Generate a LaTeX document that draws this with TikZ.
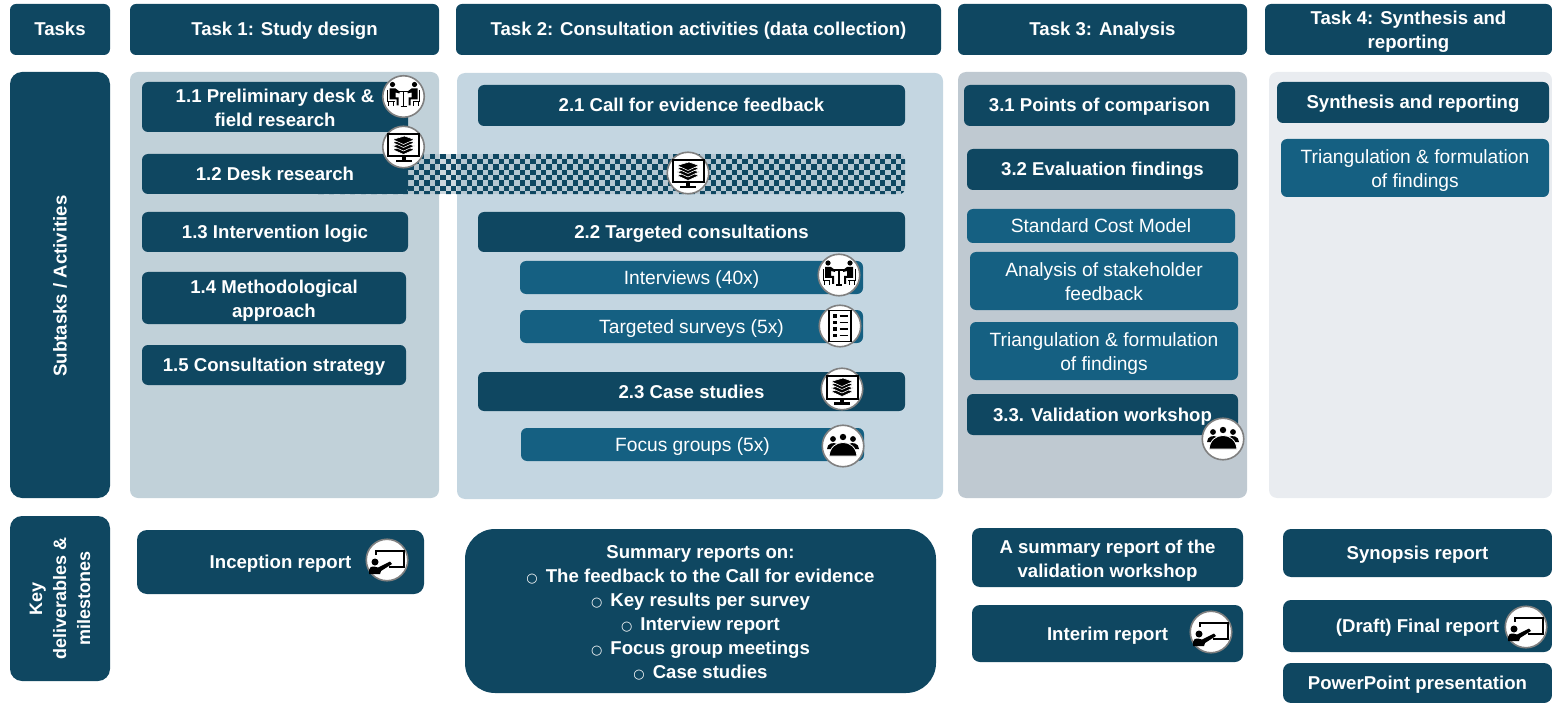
\documentclass[tikz,border=0pt]{standalone}
\usepackage{fontspec}
\setmainfont{Liberation Sans}
\newfontfamily\symfont{DejaVu Sans}
\definecolor{taskdark}{HTML}{0F4761}
\definecolor{tasklight}{HTML}{156082}
\definecolor{panelone}{HTML}{C1D1D9}
\definecolor{paneltwo}{HTML}{C4D6E1}
\definecolor{panelthree}{HTML}{BFC9D1}
\definecolor{panelfour}{HTML}{E9ECF0}
\newcommand{\circbullet}{{\symfont\fontsize{13}{13}\selectfont ○}\hspace{8pt}}
\tikzstyle{darkbox}=[fill=taskdark,rounded corners=6pt,inner sep=0pt,align=center,text=white,text height=14pt,text depth=1pt,font=\bfseries\fontsize{18.6}{24}\selectfont]
\tikzstyle{lightbox}=[fill=tasklight,rounded corners=6pt,inner sep=0pt,align=center,text=white,text height=14pt,text depth=1pt,font=\fontsize{19.2}{24}\selectfont]
\tikzstyle{twolines}=[text height=40pt]
\tikzstyle{panel}=[rounded corners=8pt,inner sep=0pt]
\tikzstyle{iconring}=[circle,fill=white,draw=black!50,line width=1.6pt,minimum size=41.5pt,inner sep=0pt]
\tikzset{
  pics/meeticon/.style={code={
    \node[iconring] (-ring) at (0,0) {};
    \fill (-11,-12) circle (2.6);
    \fill (11,-12) circle (2.6);
    \fill (-14,-8) -- (-8,-8) -- (-4,-5) -- (-4,-3) -- (-8,-4) -- (-8,1) -- (-5,1) -- (-5,9) -- (-7,9) -- (-7,3) -- (-14,3) -- cycle;
    \fill (14,-8) -- (8,-8) -- (4,-5) -- (4,-3) -- (8,-4) -- (8,1) -- (5,1) -- (5,9) -- (7,9) -- (7,3) -- (14,3) -- cycle;
    \draw[line width=.9pt] (-16,-6) -- (-16,5) -- (-9,5) (-15,5) -- (-15,10) (-10,5) -- (-10,10);
    \draw[line width=.9pt] (16,-6) -- (16,5) -- (9,5) (15,5) -- (15,10) (10,5) -- (10,10);
    \draw[line width=1.2pt] (-5,-5) -- (5,-5) (0,-5) -- (0,10) (-3,10) -- (3,10);
  }},
  pics/booksicon/.style={code={
    \node[iconring] (-ring) at (0,0) {};
    \draw[line width=2pt] (-15.5,-13) rectangle (15.5,9.5);
    \fill (-2,9) rectangle (2,14);
    \fill (-8,13) rectangle (8,15.5);
    \foreach \h in {2.5,-1,-4.5,-7.5} {
      \fill[draw=white,line width=.6pt] (-11,\h) -- (1,\h-3.5) -- (11,\h) -- (0,\h+5) -- cycle;
    }
  }},
  pics/listicon/.style={code={
    \node[iconring] (-ring) at (0,0) {};
    \draw[line width=1.7pt] (-11,-15.5) rectangle (11,15.5);
    \foreach \h in {-10,-3.5,3,9.5} {
      \fill (-7.5,\h-1.7) rectangle (-3.5,\h+1.7);
      \draw[line width=1.3pt] (-.5,\h) -- (8,\h);
    }
  }},
  pics/groupicon/.style={code={
    \node[iconring] (-ring) at (0,0) {};
    \fill (0,-9) circle (3.2);
    \fill (-10,-7) circle (2.9);
    \fill (10,-7) circle (2.9);
    \fill (-16,3) .. controls (-16,-3) and (-9,-4) .. (-6,-2) -- (-11,3) -- cycle;
    \fill (16,3) .. controls (16,-3) and (9,-4) .. (6,-2) -- (11,3) -- cycle;
    \fill[draw=white,line width=.8pt] (-14,10) .. controls (-13,1) and (-7,-3.5) .. (0,-3.5) .. controls (7,-3.5) and (13,1) .. (14,10) -- cycle;
  }},
  pics/boardicon/.style={code={
    \node[iconring] (-ring) at (0,0) {};
    \draw[line width=1.5pt] (-11,-5) -- (-11,-9) -- (17,-9) -- (17,7) -- (2,7);
    \fill (-12,2) circle (3.5);
    \fill (-18,14) -- (-18,10) .. controls (-18,7) and (-15,6) .. (-13,6.5) -- (-9,7.5) -- (3,1.5) -- (5,4) -- (-6,11) -- (-7,14) -- cycle;
  }}
}
\begin{document}
\begin{tikzpicture}[x=1pt,y=-1pt]
\useasboundingbox (0,0) rectangle (1552,703);
% headers
\node[darkbox,minimum width=100pt,minimum height=51pt] (tasks) at (60,29.5) {Tasks};
\node[darkbox,minimum width=309pt,minimum height=51pt] (task1) at (284.5,29.5) {Task 1: Study design};
\node[darkbox,minimum width=485pt,minimum height=51pt] (task2) at (698.5,29.5) {Task 2: Consultation activities (data collection)};
\node[darkbox,minimum width=289pt,minimum height=51pt] (task3) at (1102.5,29.5) {Task 3: Analysis};
\node[darkbox,twolines,minimum width=287pt,minimum height=51pt] (task4) at (1408.5,29.5) {Task 4: Synthesis and\\reporting};
% left column
\node[darkbox,rounded corners=12pt,minimum width=100pt,minimum height=426pt] (subtasks) at (60,285) {};
\node[text=white,font=\bfseries\fontsize{18.6}{24}\selectfont,rotate=90] (subtaskstext) at (60,286) {Subtasks / Activities};
\node[darkbox,rounded corners=12pt,minimum width=100pt,minimum height=165pt] (keys) at (60,598.5) {};
\node[text=white,font=\bfseries\fontsize{18}{24}\selectfont,rotate=90,align=center] (keystext) at (60,598.5) {Key\\deliverables \&\\milestones};
% panels
\node[panel,fill=panelone,minimum width=309pt,minimum height=426pt] (p1) at (284.5,285) {};
\node[panel,fill=paneltwo,minimum width=486pt,minimum height=426pt] (p2) at (700,286) {};
\node[panel,fill=panelthree,minimum width=289pt,minimum height=426pt] (p3) at (1102.5,285) {};
\node[panel,fill=panelfour,minimum width=283pt,minimum height=426pt] (p4) at (1410.5,285) {};
% checkered band
\begin{scope}
  \clip[rounded corners=6pt] (313,153.8) rectangle (905,194.2);
  \fill[taskdark!35,opacity=.6] (313,153.8) rectangle (905,194.2);
  \foreach \i in {0,...,112} {
    \foreach \j in {0,...,8} {
      \pgfmathparse{int(mod(\i+\j,2))}
      \ifnum\pgfmathresult=0
        \fill[taskdark] (313+\i*5.3,153.8+\j*5.3) rectangle +(5.3,5.3);
      \fi
    }
  }
\end{scope}
% task 1
\node[darkbox,twolines,minimum width=266pt,minimum height=50pt] (s11) at (275,107) {1.1 Preliminary desk \&\\field research};
\node[darkbox,minimum width=266pt,minimum height=40pt] (s12) at (275,174) {1.2 Desk research};
\node[darkbox,minimum width=266pt,minimum height=40pt] (s13) at (275,232) {1.3 Intervention logic};
\node[darkbox,twolines,minimum width=264pt,minimum height=52pt] (s14) at (274,298) {1.4 Methodological\\approach};
\node[darkbox,minimum width=264pt,minimum height=40pt] (s15) at (274,365) {1.5 Consultation strategy};
% task 2
\node[darkbox,minimum width=427pt,minimum height=41pt] (s21) at (691.5,105.5) {2.1 Call for evidence feedback};
\node[darkbox,minimum width=427pt,minimum height=40pt] (s22) at (691.5,232) {2.2 Targeted consultations};
\node[lightbox,minimum width=343pt,minimum height=33pt] (interviews) at (691.5,277.5) {Interviews (40x)};
\node[lightbox,minimum width=343pt,minimum height=33pt] (surveys) at (691.5,326.5) {Targeted surveys (5x)};
\node[darkbox,minimum width=427pt,minimum height=39pt] (s23) at (691.5,391.5) {2.3 Case studies};
\node[lightbox,minimum width=343pt,minimum height=33pt] (focus) at (692.5,444.5) {Focus groups (5x)};
% task 3
\node[darkbox,minimum width=271pt,minimum height=41pt] (s31) at (1099.5,105.5) {3.1 Points of comparison};
\node[darkbox,minimum width=271pt,minimum height=41pt] (s32) at (1102.5,169.5) {3.2 Evaluation findings};
\node[lightbox,minimum width=268pt,minimum height=34pt] (costmodel) at (1101,226) {Standard Cost Model};
\node[lightbox,twolines,minimum width=268pt,minimum height=58pt] (feedback) at (1104,281) {Analysis of stakeholder\\feedback};
\node[lightbox,twolines,minimum width=268pt,minimum height=58pt] (triang3) at (1104,351) {Triangulation \& formulation\\of findings};
\node[darkbox,minimum width=271pt,minimum height=41pt] (s33) at (1102.5,414.5) {3.3. Validation workshop};
% task 4
\node[darkbox,minimum width=272pt,minimum height=41pt] (s41) at (1413,102.5) {Synthesis and reporting};
\node[lightbox,twolines,minimum width=268pt,minimum height=58pt] (triang4) at (1415,168) {Triangulation \& formulation\\of findings};
% deliverables
\node[darkbox,rounded corners=10pt,minimum width=287pt,minimum height=64pt] (d1) at (280.5,562) {Inception report};
\node[darkbox,text height=136pt,rounded corners=30pt,minimum width=471pt,minimum height=164pt] (d2) at (700.5,611) {Summary reports on:\\\circbullet The feedback to the Call for evidence\\\circbullet Key results per survey\\\circbullet Interview report\\\circbullet Focus group meetings\\\circbullet Case studies};
\node[darkbox,twolines,rounded corners=8pt,minimum width=271pt,minimum height=59pt] (d31) at (1107.5,557.5) {A summary report of the\\validation workshop};
\node[darkbox,rounded corners=8pt,minimum width=271pt,minimum height=57pt] (d32) at (1107.5,633.5) {Interim report};
\node[darkbox,rounded corners=8pt,minimum width=269pt,minimum height=48pt] (d41) at (1417.5,553) {Synopsis report};
\node[darkbox,rounded corners=8pt,minimum width=269pt,minimum height=52pt] (d42) at (1417.5,626) {(Draft) Final report};
\node[darkbox,rounded corners=8pt,minimum width=269pt,minimum height=40pt] (d43) at (1417.5,683) {PowerPoint presentation};
% icons
\pic (i11) at (403.5,96.5) {meeticon};
\pic (i12) at (403.5,147) {booksicon};
\pic (i21) at (688,173) {booksicon};
\pic (i22) at (839,275) {meeticon};
\pic (i23) at (840,326) {listicon};
\pic (i24) at (842,389) {booksicon};
\pic (i25) at (843,446) {groupicon};
\pic (i33) at (1223,439) {groupicon};
\pic (i1d) at (387,560) {boardicon};
\pic (i3d) at (1211,632) {boardicon};
\pic (i4d) at (1526,627) {boardicon};
\end{tikzpicture}
\end{document}
